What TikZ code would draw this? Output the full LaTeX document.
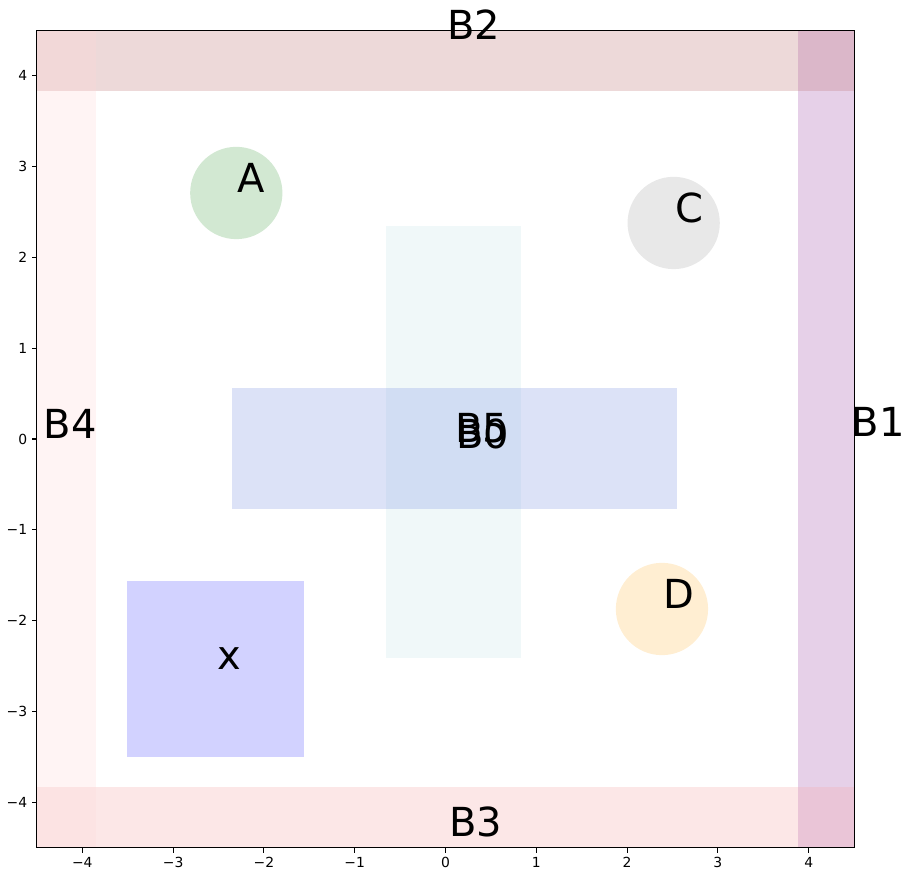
\documentclass[tikz,border=0pt]{standalone}
\usepackage{fontspec}
\setmainfont{DejaVu Sans}
\definecolor{cB1}{RGB}{172,98,180}
\definecolor{cB2}{RGB}{195,128,128}
\definecolor{cB3}{RGB}{245,175,175}
\definecolor{cB4}{RGB}{255,218,218}
\definecolor{cB5}{RGB}{205,232,236}
\definecolor{cB0}{RGB}{138,158,228}
\definecolor{cX}{RGB}{105,105,255}
\definecolor{cA}{RGB}{105,178,105}
\definecolor{cC}{RGB}{178,178,178}
\definecolor{cD}{RGB}{255,198,105}
\begin{document}
\begin{tikzpicture}[x=90.8pt,y=90.85pt,
  patch/.style={fill opacity=0.3, draw=none},
  lbl/.style={anchor=base west, inner sep=0pt, outer sep=0pt, font=\fontsize{40}{48}\selectfont},
  tickmark/.style={line width=1.1pt, black},
  ticklbl/.style={inner sep=0pt, outer sep=0pt, font=\fontsize{13.9}{16}\selectfont},
  frame/.style={line width=1.1pt, black}]
\useasboundingbox (-4.9064,-4.8431) rectangle (5.1487,4.8322);
% border bands
\fill[patch, cB1] (3.885,-4.5) rectangle (4.5,4.5);
\fill[patch, cB2] (-4.5,3.834) rectangle (4.5,4.5);
\fill[patch, cB3] (-4.5,-4.5) rectangle (4.5,-3.827);
\fill[patch, cB4] (-4.5,-4.5) rectangle (-3.849,4.5);
% central rectangles
\fill[patch, cB5] (-0.655,-2.411) rectangle (0.831,2.345);
\fill[patch, cB0] (-2.351,-0.770) rectangle (2.551,0.561);
% square
\fill[patch, cX] (-3.504,-3.504) rectangle (-1.558,-1.563);
% circles
\fill[patch, cA] (-2.304,2.708) circle (0.508);
\fill[patch, cC] (2.513,2.378) circle (0.508);
\fill[patch, cD] (2.384,-1.871) circle (0.508);
% frame
\draw[frame] (-4.5,-4.5) rectangle (4.5,4.5);
% ticks
\foreach \v/\t in {-4/{−4},-3/{−3},-2/{−2},-1/{−1},0/0,1/1,2/2,3/3,4/4}{
  \draw[tickmark] (\v,-4.5) -- ++(0pt,-4.86pt);
  \node[ticklbl, anchor=north] (xl\v) at ([yshift=-9.72pt]\v,-4.5) {\t};
  \draw[tickmark] (-4.5,\v) -- ++(-4.86pt,0pt);
  \node[ticklbl, anchor=east] (yl\v) at ([xshift=-9.72pt]-4.5,\v) {\t};
}
% labels
\node[lbl] (lB1) at (4.474,0.033) {B1};
\node[lbl] (lB2) at (0.018,4.392) {B2};
\node[lbl] (lB3) at (0.044,-4.378) {B3};
\node[lbl] (lB4) at (-4.425,0.008) {B4};
\node[lbl] (lB5) at (0.108,-0.033) {B5};
\node[lbl] (lB0) at (0.120,-0.105) {B0};
\node[lbl] (lx) at (-2.516,-2.534) {x};
\node[lbl] (lA) at (-2.289,2.708) {A};
\node[lbl] (lC) at (2.528,2.378) {C};
\node[lbl] (lD) at (2.399,-1.871) {D};
\end{tikzpicture}
\end{document}
